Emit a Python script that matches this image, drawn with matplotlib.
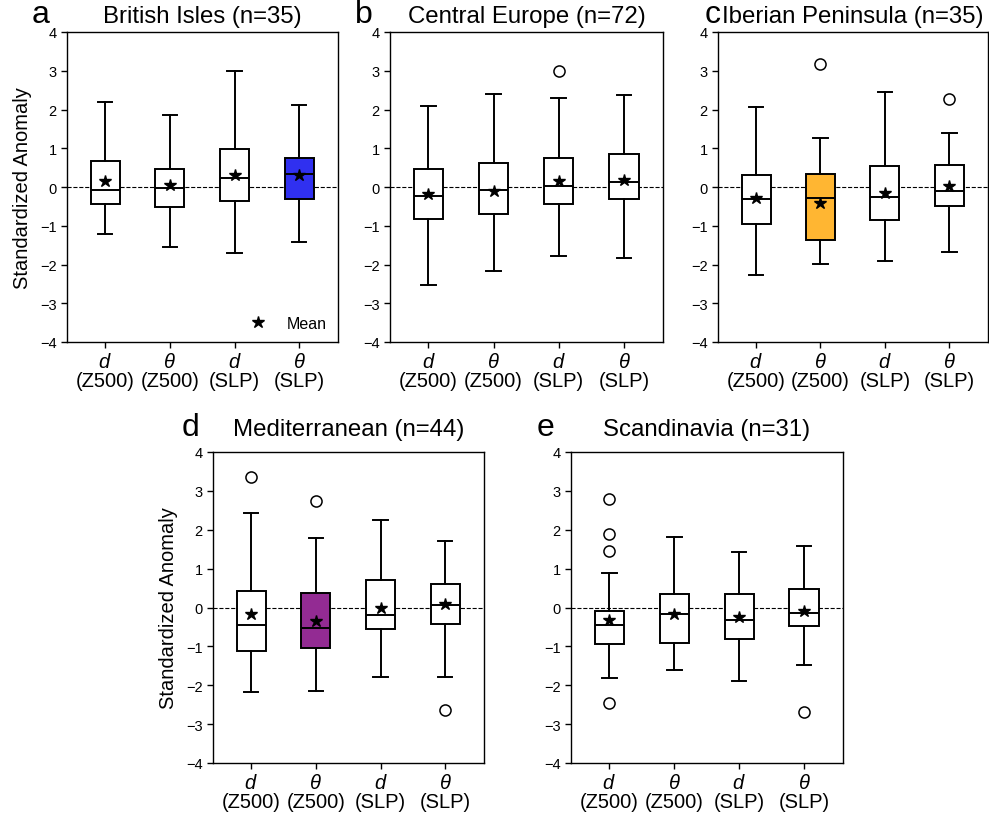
import matplotlib
matplotlib.use("Agg")
import matplotlib.pyplot as plt
from matplotlib.lines import Line2D

# ==========================================================
# DATI
# ==========================================================
letters = ["a", "b", "c", "d", "e"]
regions = ["British Isles", "Central Europe", "Iberian Peninsula",
           "Mediterranean", "Scandinavia"]
counts = [35, 72, 35, 44, 31]
xlabels = ["$d$\n(Z500)", "$\\theta$\n(Z500)", "$d$\n(SLP)", "$\\theta$\n(SLP)"]

whis_hi = [[2.19, 1.85, 3.00, 2.11],
           [2.10, 2.40, 2.30, 2.37],
           [2.06, 1.26, 2.46, 1.39],
           [2.42, 1.78, 2.26, 1.71],
           [0.89, 1.81, 1.42, 1.58]]
q3s = [[0.67, 0.47, 0.97, 0.75],
       [0.46, 0.61, 0.74, 0.84],
       [0.31, 0.34, 0.53, 0.58],
       [0.43, 0.38, 0.70, 0.60],
       [-0.08, 0.34, 0.34, 0.47]]
medians = [[-0.07, -0.03, 0.22, 0.34],
           [-0.22, -0.07, 0.03, 0.13],
           [-0.32, -0.28, -0.27, -0.10],
           [-0.44, -0.54, -0.20, 0.06],
           [-0.45, -0.18, -0.32, -0.15]]
q1s = [[-0.44, -0.52, -0.37, -0.30],
       [-0.83, -0.70, -0.45, -0.30],
       [-0.96, -1.36, -0.86, -0.50],
       [-1.11, -1.03, -0.55, -0.42],
       [-0.94, -0.91, -0.81, -0.47]]
whis_lo = [[-1.21, -1.54, -1.70, -1.43],
           [-2.52, -2.17, -1.78, -1.82],
           [-2.26, -1.98, -1.90, -1.67],
           [-2.17, -2.14, -1.78, -1.79],
           [-1.82, -1.61, -1.90, -1.47]]
means = [[0.15, 0.04, 0.32, 0.30],
         [-0.19, -0.10, 0.15, 0.17],
         [-0.28, -0.42, -0.15, 0.03],
         [-0.18, -0.34, 0.00, 0.09],
         [-0.33, -0.18, -0.24, -0.09]]
fliers = [[[], [], [], []],
          [[], [], [2.99], []],
          [[], [3.17], [], [2.26]],
          [[3.35], [2.74], [], [-2.64]],
          [[2.79, 1.90, 1.45, -2.45], [], [], [-2.68]]]

# box evidenziati: pannello -> (indice box, colore)
highlight = {0: (3, "#3030F0"), 2: (1, "#FFB632"), 3: (1, "#932B93")}

# ==========================================================
# STILE
# ==========================================================
plt.rcParams["font.family"] = ["Liberation Sans", "DejaVu Sans"]
plt.rcParams["mathtext.fontset"] = "custom"
plt.rcParams["mathtext.it"] = "Liberation Sans:italic"
plt.rcParams["mathtext.rm"] = "Liberation Sans"

W, H = 989, 820
fig = plt.figure(figsize=(W / 100, H / 100), dpi=100)

# posizione assi in pixel: (sinistra, destra, alto, basso)
rects = [(67, 338, 33, 343), (390, 663, 33, 343), (718, 988, 33, 343),
         (213, 484, 453, 764), (571, 843, 453, 764)]
letter_dx = [-35, -35, -13, -31, -34]
title_dy = [10, 10, 10, 17, 17]   # distanza titolo dal bordo superiore (px)

for i in range(5):
    l, r, t, b = rects[i]
    ax = fig.add_axes([l / W, (H - b) / H, (r - l) / W, (b - t) / H])

    stats = []
    for j in range(4):
        stats.append({"med": medians[i][j], "q1": q1s[i][j], "q3": q3s[i][j],
                      "whislo": whis_lo[i][j], "whishi": whis_hi[i][j],
                      "mean": means[i][j], "fliers": fliers[i][j]})

    ax.axhline(0, color="k", lw=0.8, ls="--", zorder=1)
    bp = ax.bxp(stats, positions=[1, 2, 3, 4], widths=0.45, showmeans=True,
                patch_artist=True,
                boxprops=dict(facecolor="white", edgecolor="k", linewidth=1.4),
                medianprops=dict(color="k", linewidth=1.4),
                whiskerprops=dict(color="k", linewidth=1.4),
                capprops=dict(color="k", linewidth=1.4),
                meanprops=dict(marker="*", markerfacecolor="k",
                               markeredgecolor="k", markersize=9),
                flierprops=dict(marker="o", markerfacecolor="white",
                                markeredgecolor="k", markersize=8,
                                markeredgewidth=1.1))
    for patch in bp["boxes"]:
        patch.set_zorder(2)
    if i in highlight:
        k, col = highlight[i]
        bp["boxes"][k].set_facecolor(col)

    ax.set_xlim(0.41, 4.6)
    ax.set_ylim(-4, 4)
    ax.set_yticks(range(-4, 5))
    ax.set_xticks([1, 2, 3, 4])
    ax.set_xticklabels(xlabels, fontsize=14.5, linespacing=1.05)
    ax.tick_params(axis="y", labelsize=10.5, length=4, width=1)
    ax.tick_params(axis="x", length=4, width=1, pad=3)
    for s in ax.spines.values():
        s.set_linewidth(1.0)

    if i in (0, 3):
        ax.set_ylabel("Standardized Anomaly", fontsize=14.5, labelpad=6)

    ty = 1 + title_dy[i] / (b - t)
    ax.text(0.5, ty, f"{regions[i]} (n={counts[i]})", transform=ax.transAxes,
            ha="center", va="baseline", fontsize=17.3)
    ax.text(letter_dx[i] / (r - l), ty, letters[i], transform=ax.transAxes,
            ha="left", va="baseline", fontsize=23)

    if i == 0:
        star = Line2D([], [], ls="none", marker="*", color="k", markersize=9)
        ax.legend([star], ["Mean"], loc="lower right", frameon=False,
                  fontsize=11.5, handletextpad=0.8, borderaxespad=0.3)

fig.savefig("out.png", dpi=100)
plt.close(fig)
